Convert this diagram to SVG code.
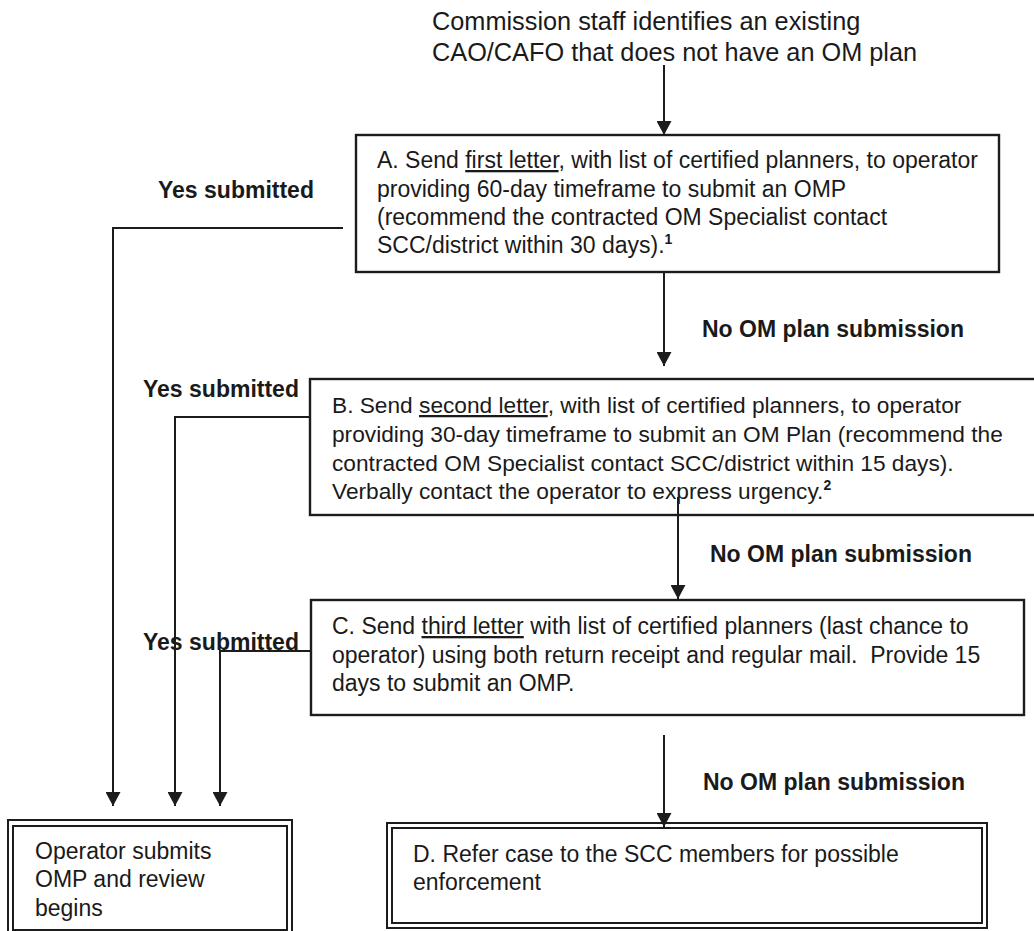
<svg xmlns="http://www.w3.org/2000/svg" width="1034" height="931" viewBox="0 0 1034 931">
<defs>
<marker id="ah" markerUnits="userSpaceOnUse" markerWidth="15" markerHeight="15" refX="14" refY="7.5" orient="auto">
<path d="M0,0 L14,7.5 L0,15 z" fill="#1c1c1c"/>
</marker>
<style>
.t{font-family:"Liberation Sans",Arial,sans-serif;font-size:23px;fill:#1a1a1a}
.tb{font-family:"Liberation Sans",Arial,sans-serif;font-size:23px;font-weight:bold;fill:#1a1a1a}
.top{font-family:"Liberation Sans",Arial,sans-serif;font-size:25.3px;fill:#1a1a1a}
.box{fill:none;stroke:#1c1c1c;stroke-width:2.4}
.dbl{fill:none;stroke:#1c1c1c;stroke-width:2}
.c{fill:none;stroke:#1c1c1c;stroke-width:2}
.u{text-decoration:underline}
.sup{font-size:14px;font-weight:bold}
</style>
</defs>
<rect width="1034" height="931" fill="#ffffff"/>

<g id="start">
<text class="top" x="432" y="30">Commission staff identifies an existing</text>
<text class="top" x="432" y="61">CAO/CAFO that does not have an OM plan</text>
</g>

<g id="nodeA">
<rect class="box" x="356" y="135" width="643" height="137"/>
<text class="t" x="377" y="168">A. Send <tspan class="u">first letter</tspan>, with list of certified planners, to operator</text>
<text class="t" x="377" y="197">providing 60-day timeframe to submit an OMP</text>
<text class="t" x="377" y="225">(recommend the contracted OM Specialist contact</text>
<text class="t" x="377" y="253">SCC/district within 30 days).<tspan class="sup" dy="-9">1</tspan></text>
</g>

<g id="nodeB">
<rect class="box" x="310" y="379" width="730" height="136"/>
<text class="t" x="332" y="413" style="font-size:22.7px">B. Send <tspan class="u">second letter</tspan>, with list of certified planners, to operator</text>
<text class="t" x="332" y="442" style="font-size:22.7px">providing 30-day timeframe to submit an OM Plan (recommend the</text>
<text class="t" x="332" y="471" style="font-size:22.7px">contracted OM Specialist contact SCC/district within 15 days).</text>
<text class="t" x="332" y="499" style="font-size:22.7px">Verbally contact the operator to express urgency.<tspan class="sup" dy="-9">2</tspan></text>
</g>

<g id="nodeC">
<rect class="box" x="311" y="600" width="713" height="115"/>
<text class="t" x="332" y="634">C. Send <tspan class="u">third letter</tspan> with list of certified planners (last chance to</text>
<text class="t" x="332" y="663">operator) using both return receipt and regular mail.&#160; Provide 15</text>
<text class="t" x="332" y="691">days to submit an OMP.</text>
</g>

<g id="nodeD">
<rect class="dbl" x="387" y="823" width="600" height="105"/>
<rect class="dbl" x="392" y="828" width="590" height="95"/>
<text class="t" x="413" y="862">D. Refer case to the SCC members for possible</text>
<text class="t" x="413" y="890">enforcement</text>
</g>

<g id="nodeOperator">
<rect class="dbl" x="8" y="820" width="284" height="116"/>
<rect class="dbl" x="13" y="826" width="274" height="104"/>
<text class="t" x="35" y="859">Operator submits</text>
<text class="t" x="35" y="887">OMP and review</text>
<text class="t" x="35" y="916">begins</text>
</g>

<g id="connectors">
<line class="c" x1="664" y1="65" x2="664" y2="135" marker-end="url(#ah)"/>
<line class="c" x1="664" y1="272" x2="664" y2="366" marker-end="url(#ah)"/>
<line class="c" x1="678" y1="497" x2="678" y2="599" marker-end="url(#ah)"/>
<line class="c" x1="664" y1="735" x2="664" y2="827" marker-end="url(#ah)"/>
<polyline class="c" points="343,228 113,228 113,806" marker-end="url(#ah)"/>
<polyline class="c" points="310,417 175,417 175,806" marker-end="url(#ah)"/>
<polyline class="c" points="311,651 220,651 220,806" marker-end="url(#ah)"/>
</g>

<g id="labels">
<text class="tb" x="158" y="198">Yes submitted</text>
<text class="tb" x="143" y="397">Yes submitted</text>
<text class="tb" x="143" y="650">Yes submitted</text>
<text class="tb" x="702" y="337">No OM plan submission</text>
<text class="tb" x="710" y="562">No OM plan submission</text>
<text class="tb" x="703" y="790">No OM plan submission</text>
</g>
</svg>
